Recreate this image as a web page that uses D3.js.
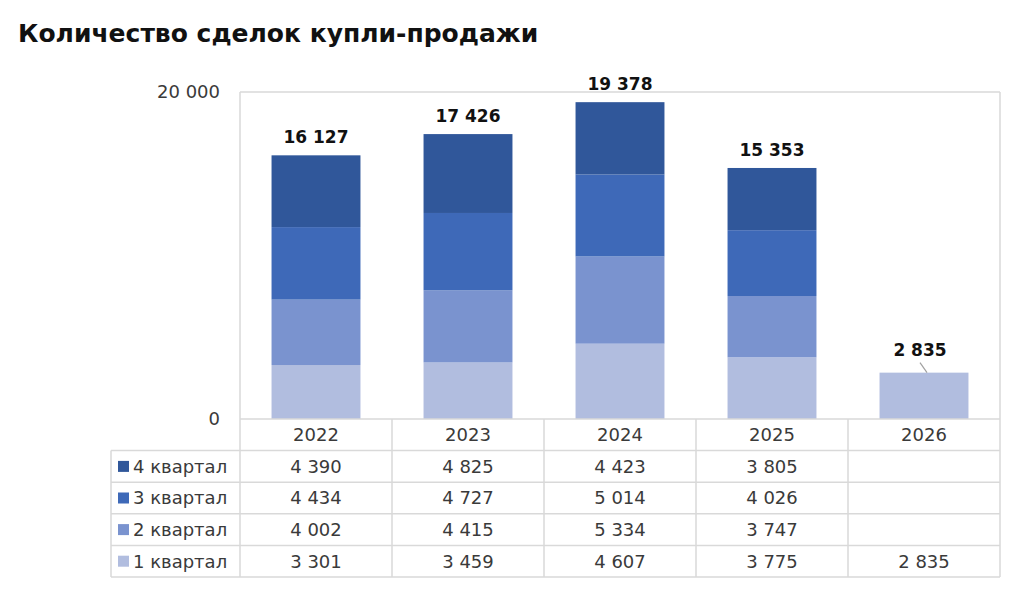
<!DOCTYPE html>
<html lang="ru">
<head>
<meta charset="UTF-8">
<title>Количество сделок купли-продажи</title>
<script src="https://cdn.jsdelivr.net/npm/d3@7"></script>
<style>
  body { margin: 0; background: #fff; }
  text { font-family: "DejaVu Sans", sans-serif; }
</style>
</head>
<body>
<div id="chart"></div>
<script>
// data
var years = ["2022", "2023", "2024", "2025", "2026"];
var seriesNames = ["1 квартал", "2 квартал", "3 квартал", "4 квартал"];
var q1 = [3301, 3459, 4607, 3775, 2835];
var q2 = [4002, 4415, 5334, 3747, null];
var q3 = [4434, 4727, 5014, 4026, null];
var q4 = [4390, 4825, 4423, 3805, null];
var totals = [16127, 17426, 19378, 15353, 2835];
var yTicks = [0, 20000];
var colors = ["#b1bddf", "#7a93cf", "#3e69b8", "#30579a"];

var W = 1024, H = 607;
var plotLeft = 240, plotRight = 1000, plotTop = 92, plotBottom = 419;
var tableLeft = 111, rowH = 31.6;
var lineColor = "#d9d9d9", textColor = "#3a3a3a";
var fs = 18;

var fmt = function (v) { return v == null ? "" : d3.format(",")(v).replace(/,/g, " "); };

var svg = d3.select("#chart").append("svg")
    .attr("width", W).attr("height", H);

svg.append("text")
    .attr("x", 18).attr("y", 42)
    .attr("font-size", 25).attr("font-weight", "bold").attr("fill", "#111")
    .text("Количество сделок купли-продажи");

var x = d3.scaleBand().domain(years).range([plotLeft, plotRight]);
var y = d3.scaleLinear().domain([0, 20000]).range([plotBottom, plotTop]);
var barW = x.bandwidth() * 0.585;

// stacked data
var rows = years.map(function (yr, i) {
  return { year: yr, q1: q1[i] || 0, q2: q2[i] || 0, q3: q3[i] || 0, q4: q4[i] || 0 };
});
var keys = ["q1", "q2", "q3", "q4"];
var stacked = d3.stack().keys(keys)(rows);

svg.append("g").selectAll("g")
  .data(stacked)
  .enter().append("g")
    .attr("fill", function (d, i) { return colors[i]; })
  .selectAll("rect")
  .data(function (d) { return d; })
  .enter().append("rect")
    .attr("x", function (d) { return x(d.data.year) + (x.bandwidth() - barW) / 2; })
    .attr("width", barW)
    .attr("y", function (d) { return y(d[1]); })
    .attr("height", function (d) { return y(d[0]) - y(d[1]); });

// frame and table lines
var grid = svg.append("g").attr("stroke", lineColor).attr("stroke-width", 1.5).attr("fill", "none");
var nRows = seriesNames.length;
var tableBottom = plotBottom + rowH * (nRows + 1);
grid.append("line").attr("x1", plotLeft).attr("x2", plotRight).attr("y1", plotTop).attr("y2", plotTop);
grid.append("line").attr("x1", plotLeft).attr("x2", plotLeft).attr("y1", plotTop).attr("y2", tableBottom);
grid.append("line").attr("x1", plotRight).attr("x2", plotRight).attr("y1", plotTop).attr("y2", tableBottom);
grid.append("line").attr("x1", plotLeft).attr("x2", plotRight).attr("y1", plotBottom).attr("y2", plotBottom);
for (var r = 1; r <= nRows + 1; r++) {
  var yy = plotBottom + rowH * r;
  grid.append("line").attr("x1", tableLeft).attr("x2", plotRight).attr("y1", yy).attr("y2", yy);
}
grid.append("line").attr("x1", tableLeft).attr("x2", tableLeft)
    .attr("y1", plotBottom + rowH).attr("y2", tableBottom);
years.slice(1).forEach(function (yr) {
  grid.append("line").attr("x1", x(yr)).attr("x2", x(yr)).attr("y1", plotBottom).attr("y2", tableBottom);
});

// y tick labels
svg.append("g").selectAll("text")
  .data(yTicks)
  .enter().append("text")
    .attr("x", 220).attr("y", function (d) { return y(d); })
    .attr("dy", "0.35em").attr("text-anchor", "end")
    .attr("font-size", fs).attr("fill", textColor)
    .text(fmt);

// total labels
var last = years.length - 1;
svg.append("g").selectAll("text")
  .data(totals)
  .enter().append("text")
    .attr("x", function (d, i) { return x.bandwidth() / 2 + x(years[i]) - (i === last ? 4 : 0); })
    .attr("y", function (d, i) { return y(d) - (i === last ? 17 : 12); })
    .attr("text-anchor", "middle").attr("font-size", 17).attr("font-weight", "bold").attr("fill", "#111")
    .text(fmt);
// leader line for the small last bar
svg.append("line")
    .attr("x1", x(years[last]) + x.bandwidth() / 2 - 4).attr("y1", y(totals[last]) - 10)
    .attr("x2", x(years[last]) + x.bandwidth() / 2 + 3).attr("y2", y(totals[last]))
    .attr("stroke", "#a0a0a0").attr("stroke-width", 1.2);

// table header (years)
svg.append("g").selectAll("text")
  .data(years)
  .enter().append("text")
    .attr("x", function (d) { return x(d) + x.bandwidth() / 2; })
    .attr("y", plotBottom + rowH / 2).attr("dy", "0.35em")
    .attr("text-anchor", "middle").attr("font-size", fs).attr("fill", textColor)
    .text(function (d) { return d; });

// table body, top row is 4 квартал
var tableSeries = [q4, q3, q2, q1];
var tableNames = seriesNames.slice().reverse();
var tableColors = colors.slice().reverse();
tableSeries.forEach(function (vals, r) {
  var cy = plotBottom + rowH * (r + 1) + rowH / 2;
  svg.append("rect")
      .attr("x", 118).attr("y", cy - 5.5).attr("width", 11).attr("height", 11)
      .attr("fill", tableColors[r]);
  svg.append("text")
      .attr("x", 133).attr("y", cy).attr("dy", "0.35em")
      .attr("font-size", fs).attr("fill", textColor)
      .text(tableNames[r]);
  svg.append("g").selectAll("text")
    .data(vals)
    .enter().append("text")
      .attr("x", function (d, i) { return x(years[i]) + x.bandwidth() / 2; })
      .attr("y", cy).attr("dy", "0.35em")
      .attr("text-anchor", "middle").attr("font-size", fs).attr("fill", textColor)
      .text(fmt);
});
</script>
</body>
</html>
